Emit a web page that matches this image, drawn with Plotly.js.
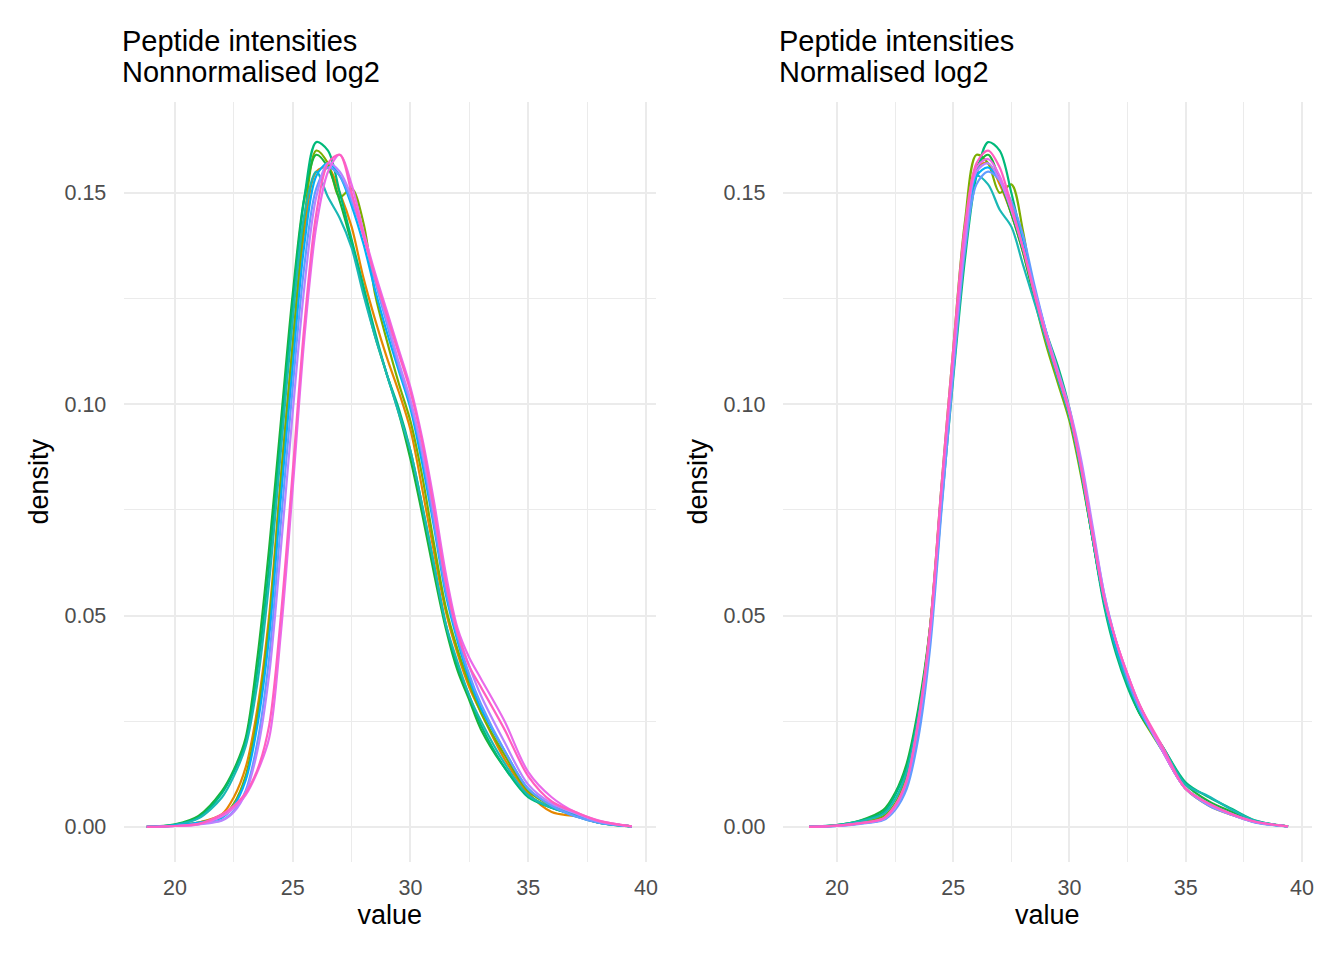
<!DOCTYPE html>
<html lang="en">
<head>
    <meta charset="UTF-8">
    <title>Peptide intensities</title>
    <script src="https://cdn.plot.ly/plotly-3.0.1.min.js"></script>
    <style>
        body { margin: 0; background: white; }
    </style>
</head>

<body>
<div id="plot"></div>

<script>

    const valueGrid = [18.8, 20, 21, 22, 22.5, 23, 23.5, 24, 24.5, 25, 25.5, 26, 26.5, 27, 27.5, 28,
        28.5, 29, 29.5, 30, 30.5, 31, 31.5, 32, 32.5, 33, 34, 35, 36, 37, 38, 39.4]

    const sampleNames = ['S1', 'S2', 'S3', 'S4', 'S5', 'S6', 'S7', 'S8', 'S9', 'S10']
    const sampleColors = ['#E58700', '#7CAE00', '#1BB33A', '#00BA7A', '#1AB8B5', '#00B0F6',
        '#619CFF', '#B983FF', '#EA6AEA', '#FF5FC0']

    // nonnormalised log2 densities
    const raw_s1 = [0, 0.0003, 0.001, 0.003, 0.007, 0.014, 0.028, 0.050, 0.083, 0.114, 0.141, 0.155, 0.156, 0.150, 0.142, 0.130,
        0.120, 0.111, 0.103, 0.094, 0.080, 0.065, 0.051, 0.041, 0.033, 0.027, 0.016, 0.008, 0.0035, 0.0025, 0.001, 0.0001]
    const raw_s2 = [0, 0.0003, 0.001, 0.0025, 0.0055, 0.012, 0.026, 0.048, 0.082, 0.114, 0.144, 0.160, 0.157, 0.149, 0.151, 0.143,
        0.126, 0.115, 0.105, 0.096, 0.083, 0.067, 0.052, 0.042, 0.034, 0.027, 0.017, 0.0085, 0.005, 0.003, 0.0012, 0.0001]
    const raw_s3 = [0, 0.0006, 0.0026, 0.0085, 0.0135, 0.021, 0.040, 0.066, 0.096, 0.126, 0.149, 0.159, 0.156, 0.148, 0.138, 0.127,
        0.116, 0.107, 0.098, 0.087, 0.074, 0.060, 0.047, 0.037, 0.030, 0.023, 0.014, 0.0075, 0.0045, 0.0028, 0.001, 0.0001]
    const raw_s4 = [0, 0.0005, 0.0022, 0.008, 0.013, 0.020, 0.037, 0.062, 0.093, 0.124, 0.149, 0.162, 0.160, 0.150, 0.139, 0.128,
        0.117, 0.107, 0.099, 0.089, 0.076, 0.062, 0.048, 0.038, 0.031, 0.024, 0.014, 0.007, 0.0045, 0.0028, 0.0011, 0.0001]
    const raw_s5 = [0, 0.0005, 0.002, 0.007, 0.012, 0.019, 0.034, 0.058, 0.089, 0.120, 0.145, 0.155, 0.149, 0.144, 0.137, 0.126,
        0.116, 0.107, 0.098, 0.089, 0.076, 0.062, 0.048, 0.039, 0.031, 0.025, 0.015, 0.0075, 0.0045, 0.003, 0.001, 0.0001]
    const raw_s6 = [0, 0.0003, 0.001, 0.0022, 0.005, 0.011, 0.024, 0.045, 0.078, 0.109, 0.138, 0.154, 0.157, 0.154, 0.147, 0.138,
        0.127, 0.117, 0.108, 0.099, 0.086, 0.071, 0.055, 0.044, 0.035, 0.028, 0.018, 0.009, 0.005, 0.0025, 0.001, 0.0001]
    const raw_s7 = [0, 0.0002, 0.0007, 0.0016, 0.0038, 0.0085, 0.020, 0.040, 0.072, 0.104, 0.133, 0.151, 0.156, 0.154, 0.148, 0.140,
        0.129, 0.119, 0.109, 0.100, 0.088, 0.072, 0.056, 0.045, 0.036, 0.029, 0.018, 0.009, 0.005, 0.0025, 0.001, 0.0001]
    const raw_s8 = [0, 0.0002, 0.0006, 0.0015, 0.0035, 0.008, 0.018, 0.036, 0.066, 0.098, 0.128, 0.149, 0.157, 0.155, 0.149, 0.140,
        0.130, 0.120, 0.110, 0.101, 0.089, 0.074, 0.058, 0.046, 0.038, 0.031, 0.020, 0.010, 0.0055, 0.0032, 0.0013, 0.0001]
    const raw_s9 = [0, 0.0002, 0.0006, 0.0025, 0.0045, 0.0075, 0.013, 0.021, 0.046, 0.080, 0.116, 0.142, 0.155, 0.159, 0.152, 0.141,
        0.131, 0.122, 0.113, 0.104, 0.092, 0.077, 0.060, 0.047, 0.040, 0.035, 0.025, 0.013, 0.007, 0.0035, 0.0015, 0.0001]
    const raw_s10 = [0, 0.0002, 0.0007, 0.003, 0.005, 0.008, 0.0135, 0.024, 0.050, 0.084, 0.119, 0.145, 0.157, 0.159, 0.150, 0.140,
        0.130, 0.121, 0.112, 0.103, 0.091, 0.075, 0.058, 0.046, 0.038, 0.033, 0.023, 0.012, 0.006, 0.0035, 0.0014, 0.0001]

    // normalised log2 densities
    const norm_s1 = [0, 0.0003, 0.001, 0.0022, 0.0052, 0.012, 0.026, 0.047, 0.080, 0.111, 0.140, 0.156, 0.157, 0.152, 0.145, 0.136,
        0.125, 0.115, 0.106, 0.097, 0.084, 0.068, 0.053, 0.042, 0.035, 0.029, 0.018, 0.009, 0.005, 0.0028, 0.0011, 0.0001]
    const norm_s2 = [0, 0.0003, 0.001, 0.0025, 0.0055, 0.012, 0.026, 0.047, 0.081, 0.113, 0.143, 0.159, 0.157, 0.150, 0.152, 0.141,
        0.125, 0.114, 0.105, 0.096, 0.083, 0.068, 0.053, 0.042, 0.034, 0.027, 0.018, 0.009, 0.0055, 0.003, 0.0012, 0.0001]
    const norm_s3 = [0, 0.0004, 0.0015, 0.004, 0.008, 0.015, 0.028, 0.047, 0.078, 0.108, 0.137, 0.156, 0.159, 0.153, 0.145, 0.136,
        0.125, 0.116, 0.108, 0.098, 0.084, 0.068, 0.053, 0.042, 0.034, 0.027, 0.019, 0.010, 0.006, 0.0035, 0.0013, 0.0001]
    const norm_s4 = [0, 0.0004, 0.0014, 0.0035, 0.0075, 0.014, 0.027, 0.045, 0.076, 0.106, 0.134, 0.154, 0.162, 0.160, 0.150, 0.138,
        0.126, 0.117, 0.109, 0.099, 0.085, 0.068, 0.052, 0.041, 0.033, 0.027, 0.019, 0.0105, 0.007, 0.0042, 0.0015, 0.0001]
    const norm_s5 = [0, 0.0004, 0.0013, 0.003, 0.0065, 0.013, 0.026, 0.046, 0.080, 0.111, 0.140, 0.154, 0.152, 0.146, 0.142, 0.133,
        0.124, 0.115, 0.106, 0.097, 0.084, 0.068, 0.053, 0.042, 0.034, 0.028, 0.019, 0.010, 0.0072, 0.004, 0.0014, 0.0001]
    const norm_s6 = [0, 0.0002, 0.0008, 0.0018, 0.0045, 0.010, 0.023, 0.044, 0.078, 0.109, 0.138, 0.154, 0.156, 0.153, 0.147, 0.138,
        0.127, 0.117, 0.107, 0.098, 0.085, 0.069, 0.054, 0.043, 0.035, 0.028, 0.018, 0.009, 0.0055, 0.003, 0.0011, 0.0001]
    const norm_s7 = [0, 0.0002, 0.0007, 0.0016, 0.004, 0.009, 0.021, 0.042, 0.075, 0.107, 0.136, 0.152, 0.155, 0.153, 0.148, 0.140,
        0.128, 0.117, 0.107, 0.098, 0.086, 0.070, 0.055, 0.044, 0.035, 0.028, 0.018, 0.009, 0.005, 0.0028, 0.001, 0.0001]
    const norm_s8 = [0, 0.0002, 0.0008, 0.0018, 0.0045, 0.0105, 0.024, 0.045, 0.079, 0.110, 0.138, 0.155, 0.157, 0.153, 0.146, 0.137,
        0.127, 0.117, 0.108, 0.099, 0.087, 0.071, 0.055, 0.044, 0.036, 0.029, 0.018, 0.009, 0.0052, 0.0028, 0.0011, 0.0001]
    const norm_s9 = [0, 0.0003, 0.0009, 0.002, 0.005, 0.011, 0.025, 0.046, 0.080, 0.111, 0.140, 0.156, 0.158, 0.154, 0.146, 0.137,
        0.126, 0.116, 0.107, 0.098, 0.085, 0.069, 0.054, 0.044, 0.036, 0.029, 0.018, 0.009, 0.0055, 0.003, 0.0012, 0.0001]
    const norm_s10 = [0, 0.0003, 0.0009, 0.002, 0.005, 0.011, 0.025, 0.047, 0.081, 0.113, 0.142, 0.157, 0.160, 0.156, 0.147, 0.137,
        0.126, 0.116, 0.107, 0.098, 0.085, 0.069, 0.054, 0.044, 0.036, 0.029, 0.019, 0.009, 0.0055, 0.003, 0.0012, 0.0001]

    const rawSeries = [raw_s1, raw_s2, raw_s3, raw_s4, raw_s5, raw_s6, raw_s7, raw_s8, raw_s9, raw_s10]
    const normSeries = [norm_s1, norm_s2, norm_s3, norm_s4, norm_s5, norm_s6, norm_s7, norm_s8, norm_s9, norm_s10]

    const yTicks = [0, 0.05, 0.10, 0.15]
    const yTickText = ['0.00', '0.05', '0.10', '0.15']
    const xTicks = [20, 25, 30, 35, 40]

    function makeTrace(yValues, i, xa, ya) {
        return {
            x: valueGrid,
            y: yValues,
            xaxis: xa,
            yaxis: ya,
            name: sampleNames[i],
            type: 'scatter',
            mode: 'lines',
            line: { color: sampleColors[i], width: 2.2, shape: 'spline', smoothing: 0.9 },
            showlegend: false
        }
    }

    const data = []
    rawSeries.forEach((s, i) => data.push(makeTrace(s, i, 'x', 'y')))
    normSeries.forEach((s, i) => data.push(makeTrace(s, i, 'x2', 'y2')))

    const fontFamily = 'Liberation Sans, Arial, sans-serif'
    const tickFont = { family: fontFamily, size: 21.5, color: '#4D4D4D' }
    const axisTitleFont = { family: fontFamily, size: 27, color: '#000000' }
    const titleFont = { family: fontFamily, size: 29, color: '#000000' }

    function xAxis(domain, range, anchor) {
        return {
            domain: domain,
            range: range,
            anchor: anchor,
            tickvals: xTicks,
            ticks: 'outside',
            ticklen: 7,
            tickcolor: 'rgba(0,0,0,0)',
            tickfont: tickFont,
            showgrid: true,
            gridcolor: '#EBEBEB',
            gridwidth: 2,
            minor: { tickvals: [22.5, 27.5, 32.5, 37.5], showgrid: true, gridcolor: '#EBEBEB', gridwidth: 1 },
            zeroline: false,
            showline: false,
            title: { text: 'value', font: axisTitleFont, standoff: 4 }
        }
    }

    function yAxis(domain, anchor) {
        return {
            domain: domain,
            range: [-0.0082, 0.1715],
            anchor: anchor,
            tickvals: yTicks,
            ticktext: yTickText,
            ticks: 'outside',
            ticklen: 12,
            tickcolor: 'rgba(0,0,0,0)',
            tickfont: tickFont,
            showgrid: true,
            gridcolor: '#EBEBEB',
            gridwidth: 2,
            minor: { tickvals: [0.025, 0.075, 0.125], showgrid: true, gridcolor: '#EBEBEB', gridwidth: 1 },
            zeroline: false,
            showline: false,
            title: { text: 'density', font: axisTitleFont, standoff: 8 }
        }
    }

    function titleLine(text, x, y) {
        return {
            text: text,
            xref: 'paper', yref: 'paper',
            x: x, y: y,
            xanchor: 'left', yanchor: 'bottom', align: 'left',
            showarrow: false,
            font: titleFont
        }
    }

    const layout = {
        width: 1344,
        height: 960,
        margin: { l: 0, r: 0, t: 0, b: 0 },
        paper_bgcolor: 'white',
        plot_bgcolor: 'white',
        xaxis: xAxis([0.0920, 0.4881], [17.82, 40.43], 'y'),
        yaxis: yAxis([0.1026, 0.8938], 'x'),
        xaxis2: xAxis([0.5824, 0.9762], [17.67, 40.43], 'y2'),
        yaxis2: yAxis([0.1026, 0.8938], 'x2'),
        annotations: [
            titleLine('Peptide intensities', 0.0890, 0.9385),
            titleLine('Nonnormalised log2', 0.0890, 0.9063),
            titleLine('Peptide intensities', 0.5778, 0.9385),
            titleLine('Normalised log2', 0.5778, 0.9063)
        ]
    }

    Plotly.newPlot('plot', data, layout, { displayModeBar: false, staticPlot: true })

</script>

</body>
</html>
